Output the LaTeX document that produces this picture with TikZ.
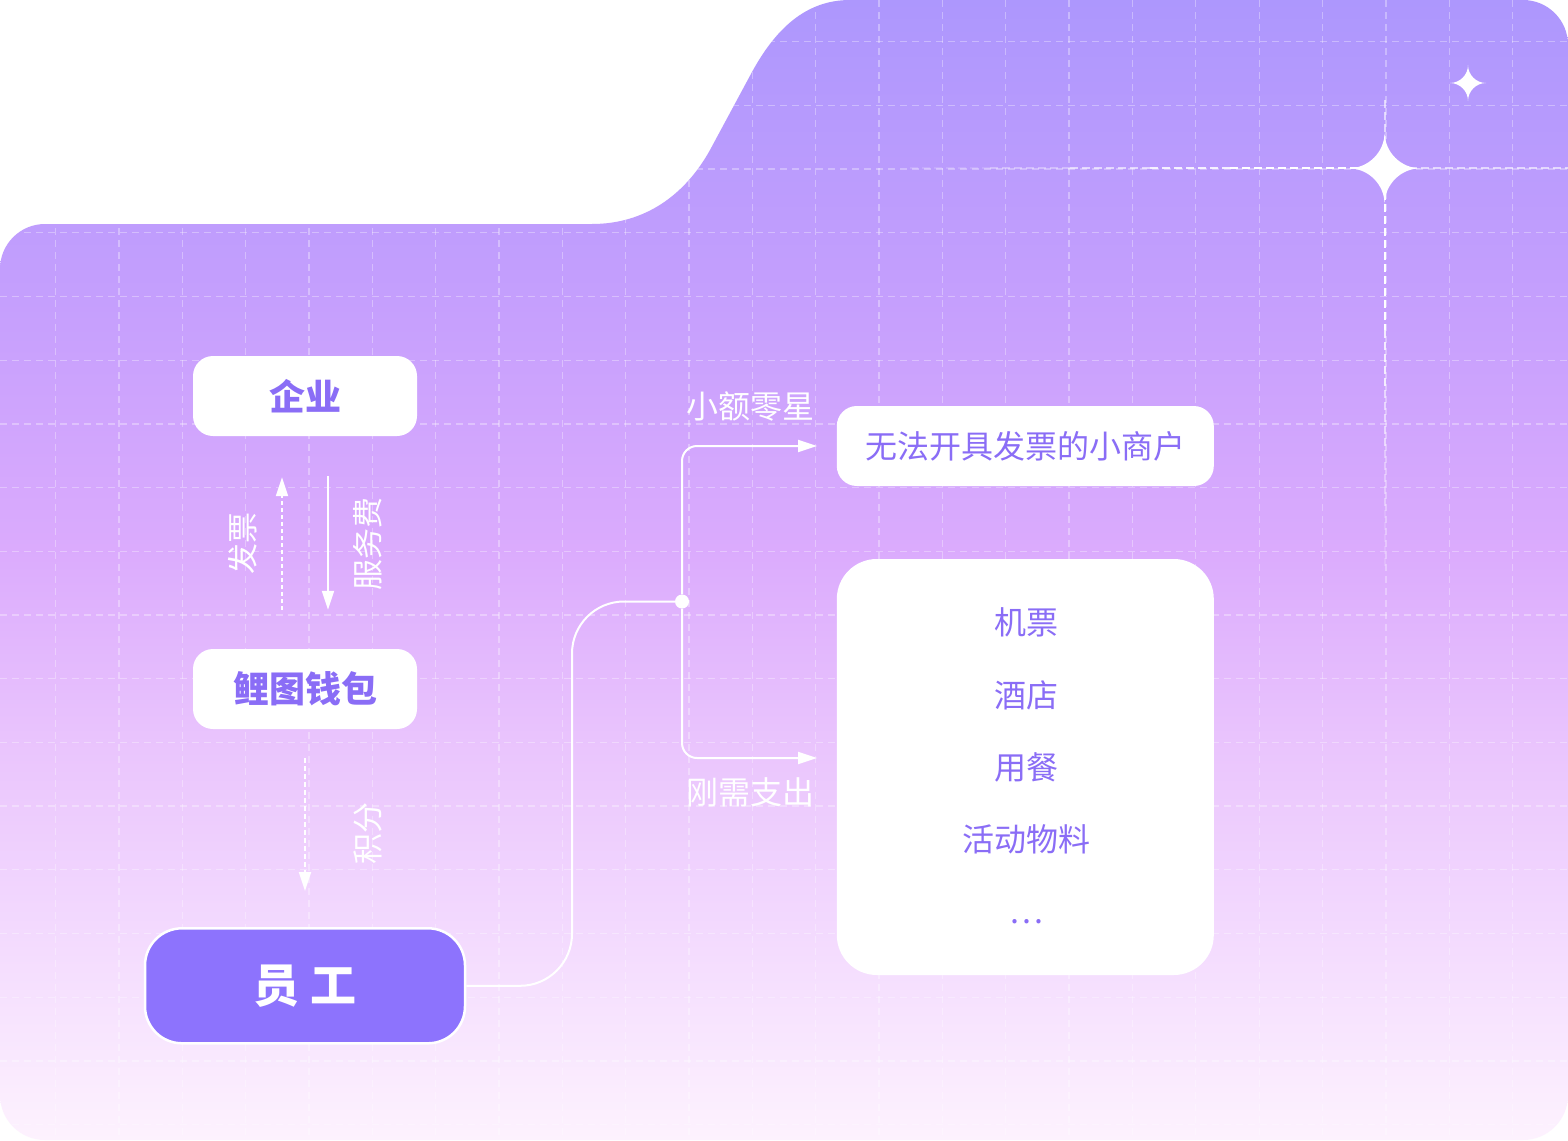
\documentclass[tikz,border=0pt]{standalone}
\usepackage{fontspec}
\setmainfont{Noto Sans CJK SC}
\usetikzlibrary{arrows.meta}

\definecolor{bgA}{HTML}{AD97FD}
\definecolor{bgB}{HTML}{C59FFD}
\definecolor{bgC}{HTML}{DBABFD}
\definecolor{bgD}{HTML}{EAC5FD}
\definecolor{bgE}{HTML}{F4DCFE}
\definecolor{bgF}{HTML}{FDF2FE}
\definecolor{deepviolet}{HTML}{8D73FD}
\definecolor{labelviolet}{HTML}{8A6DF6}

\pgfdeclareverticalshading{cardfade}{100bp}{color(0bp)=(bgF); color(25bp)=(bgF); color(33.3bp)=(bgE); color(42.1bp)=(bgD); color(50.9bp)=(bgC); color(61.8bp)=(bgB); color(75bp)=(bgA); color(100bp)=(bgA)}

\newcommand\cardoutline{(0,269) .. controls (0,244.1) and (20.1,224) .. (45,224) -- (592,224) .. controls (645,224) and (685,195) .. (710,150) -- (752,72) .. controls (775,30) and (805,0) .. (850,0) -- (1523,0) .. controls (1547.9,0) and (1568,20.1) .. (1568,45) -- (1568,1095) .. controls (1568,1119.9) and (1547.9,1140) .. (1523,1140) -- (45,1140) .. controls (20.1,1140) and (0,1119.9) .. (0,1095) -- cycle}

\newcommand\sparkle[3]{\fill[white, shift={(#1,#2)}] (0,-#3) .. controls (0,-0.45*#3) and (0.45*#3,0) .. (#3,0) .. controls (0.45*#3,0) and (0,0.45*#3) .. (0,#3) .. controls (0,0.45*#3) and (-0.45*#3,0) .. (-#3,0) .. controls (-0.45*#3,0) and (0,-0.45*#3) .. (0,-#3) -- cycle;}

\begin{document}
\begin{tikzpicture}[x=1pt, y=-1pt,
  gridline/.style={white, opacity=0.33, line width=1.3pt, dash pattern=on 7pt off 5pt},
  brightline/.style={white, line width=2pt, dash pattern=on 8pt off 4pt},
  cardbox/.style={fill=white, rounded corners=20pt, minimum width=224pt, minimum height=80pt, inner sep=0pt, text=labelviolet, font=\fontsize{36}{40}\selectfont\bfseries},
  staffbox/.style={fill=deepviolet, draw=white, line width=2.5pt, rounded corners=37pt, minimum width=320pt, minimum height=115pt, inner sep=0pt, text=white, font=\fontsize{46}{50}\selectfont\bfseries},
  itemtext/.style={text=labelviolet, inner sep=0pt, font=\fontsize{32}{36}\selectfont},
  flowlabel/.style={text=white, inner sep=0pt, font=\fontsize{32}{36}\selectfont},
  sidelabel/.style={text=white, inner sep=0pt, rotate=90, font=\fontsize{31}{35}\selectfont},
  link/.style={white, line width=2pt},
  tip/.style={-{Triangle[length=19pt, width=12pt]}},
  hubdot/.style={circle, fill=white, inner sep=0pt, minimum size=14pt}]

\fill[white] (0,0) rectangle (1568,1140);
\shade[shading=cardfade] \cardoutline;

\begin{scope}
\clip \cardoutline;
\foreach \k in {0,...,17}
  \draw[gridline] (0,{41.7+63.7*\k}) -- (1568,{41.7+63.7*\k});
\foreach \k in {0,...,23}
  \draw[gridline] ({55.5+63.35*\k},0) -- ({55.5+63.35*\k},1140);
\foreach \s/\o in {910/0.15, 990/0.35, 1070/0.6, 1150/0.85}
  \draw[brightline, opacity=\o] (\s,168.3) -- (\s+80,168.3);
\draw[brightline] (1230,168.3) -- (1384.6,168.3);
\draw[brightline, opacity=0.6] (1384.6,168.3) -- (1568,168.3);
\draw[brightline, opacity=0.6] (1384.6,100) -- (1384.6,168.3);
\draw[brightline] (1384.6,168.3) -- (1384.6,330);
\foreach \s/\o in {330/0.8, 390/0.55, 450/0.35, 510/0.15}
  \draw[brightline, opacity=\o] (1384.6,\s) -- (1384.6,\s+60);
\end{scope}

\sparkle{1384.6}{168.3}{36}
\sparkle{1468}{83}{18}

\node[cardbox] (company) at (305,396) {企业};
\node[cardbox] (wallet) at (305,689) {鲤图钱包};
\node[staffbox] (staff) at (305,985.8) {员 工};
\node[cardbox, minimum width=377pt, font=\fontsize{32}{36}\selectfont] (merchant) at (1025.3,446) {无法开具发票的小商户};
\node[cardbox, minimum width=377pt, minimum height=416pt, rounded corners=40pt] (scenes) at (1025.3,767) {};
\node[itemtext] (flight) at (1026,622) {机票};
\node[itemtext] (hotel) at (1026,695) {酒店};
\node[itemtext] (dining) at (1026,767) {用餐};
\node[itemtext] (events) at (1026,839) {活动物料};
\node[itemtext] (more) at (1026,922) {…};

\draw[link, tip, dash pattern=on 4pt off 3pt, shorten <=39pt, shorten >=41pt] ([xshift=-23pt]wallet.north) -- ([xshift=-23pt]company.south);
\draw[link, tip, shorten <=40pt, shorten >=39pt] ([xshift=23pt]company.south) -- ([xshift=23pt]wallet.north);
\draw[link, tip, dash pattern=on 5pt off 3pt, shorten <=29pt, shorten >=36pt] (wallet.south) -- (staff.north);
\node[sidelabel] (invoice) at (242.6,543) {发票};
\node[sidelabel] (fee) at (368,543.5) {服务费};
\node[sidelabel] (points) at (368,833) {积分};

\node[hubdot] (hub) at (682,601.5) {};
\coordinate (smallin) at (817,446);
\coordinate (needin) at (817,758);
\draw[link, rounded corners=52pt] (staff.east) -- (572,985.8) -- (572,601.5) -- (hub);
\draw[link, tip, rounded corners=15pt] (hub) |- (smallin);
\draw[link, tip, rounded corners=15pt] (hub) |- (needin);
\node[flowlabel] (small) at (750,407) {小额零星};
\node[flowlabel] (need) at (750,792) {刚需支出};
\end{tikzpicture}
\end{document}
